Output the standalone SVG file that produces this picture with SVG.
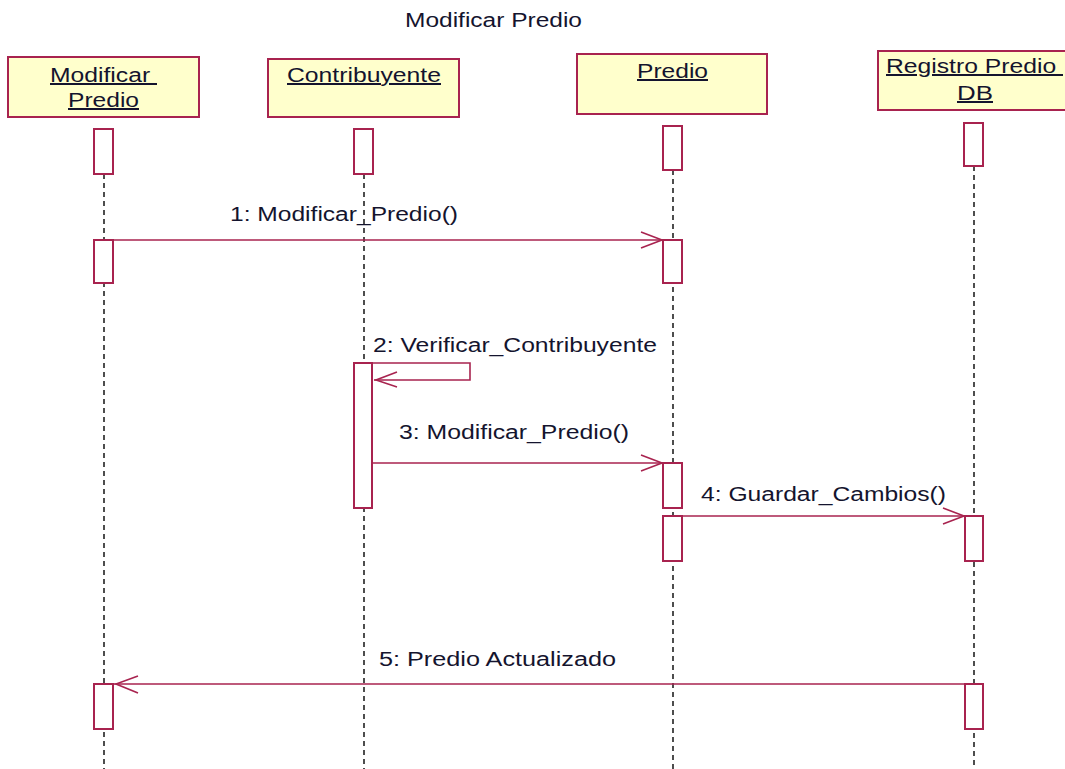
<svg xmlns="http://www.w3.org/2000/svg" width="1065" height="769" viewBox="0 0 1065 769">
<style>
.obj{fill:#FFFFCC;stroke:#A8234F;stroke-width:2}
.act{fill:#FFFFFF;stroke:#A8234F;stroke-width:2}
.life{stroke:#222;stroke-width:1.6;stroke-dasharray:5 4;fill:none}
.msg{stroke:#A8234F;stroke-width:1.6;fill:none}
.head{stroke:#A8234F;stroke-width:1.6;fill:none}
text{font-family:"Liberation Sans",Arial,sans-serif;font-size:20px;fill:#14142E}
.u{text-decoration:underline;white-space:pre}
</style>
<rect width="1065" height="769" fill="#FFFFFF"/>
<text x="405" y="27" textLength="177" lengthAdjust="spacingAndGlyphs">Modificar Predio</text>

<g id="lifelines">
<line class="life" x1="104" y1="174" x2="104" y2="769"/>
<line class="life" x1="364" y1="174" x2="364" y2="769"/>
<line class="life" x1="673" y1="170" x2="673" y2="769"/>
<line class="life" x1="974" y1="166" x2="974" y2="769"/>
</g>

<g id="node-modificar-predio">
<rect class="obj" x="8" y="57" width="191" height="60"/>
<text class="u" x="50" y="82" textLength="107" lengthAdjust="spacingAndGlyphs">Modificar </text>
<text class="u" x="68" y="107" textLength="71" lengthAdjust="spacingAndGlyphs">Predio</text>
<rect class="act" x="94" y="129" width="19" height="45"/>
<rect class="act" x="94" y="240" width="19" height="43"/>
<rect class="act" x="94" y="684" width="19" height="45"/>
</g>

<g id="node-contribuyente">
<rect class="obj" x="268" y="59" width="191" height="58"/>
<text class="u" x="287" y="82" textLength="154" lengthAdjust="spacingAndGlyphs">Contribuyente</text>
<rect class="act" x="354" y="129" width="19" height="45"/>
<rect class="act" x="354" y="363" width="18" height="145"/>
</g>

<g id="node-predio">
<rect class="obj" x="577" y="54" width="190" height="60"/>
<text class="u" x="637" y="78" textLength="71" lengthAdjust="spacingAndGlyphs">Predio</text>
<rect class="act" x="663" y="126" width="19" height="44"/>
<rect class="act" x="663" y="240" width="19" height="43"/>
<rect class="act" x="663" y="463" width="19" height="45"/>
<rect class="act" x="663" y="516" width="19" height="45"/>
</g>

<g id="node-registro">
<rect class="obj" x="878" y="51" width="200" height="59"/>
<text class="u" x="886" y="73" textLength="177" lengthAdjust="spacingAndGlyphs">Registro Predio </text>
<text class="u" x="957" y="100" textLength="36" lengthAdjust="spacingAndGlyphs">DB</text>
<rect class="act" x="964" y="123" width="19" height="43"/>
<rect class="act" x="965" y="516" width="18" height="45"/>
<rect class="act" x="965" y="684" width="18" height="45"/>
</g>

<g id="connectors">
<line class="msg" x1="113" y1="240" x2="662" y2="240"/>
<polyline class="head" points="641,232 662,240 641,248"/>
<text x="230" y="221" textLength="228" lengthAdjust="spacingAndGlyphs">1: Modificar_Predio()</text>

<polyline class="msg" points="372,363 470,363 470,380 374,380"/>
<polyline class="head" points="397,372 376,380 397,387"/>
<text x="373" y="352" textLength="284" lengthAdjust="spacingAndGlyphs">2: Verificar_Contribuyente</text>

<line class="msg" x1="372" y1="463" x2="662" y2="463"/>
<polyline class="head" points="641,455 662,463 641,471"/>
<text x="399" y="439" textLength="230" lengthAdjust="spacingAndGlyphs">3: Modificar_Predio()</text>

<line class="msg" x1="682" y1="516" x2="964" y2="516"/>
<polyline class="head" points="943,508 964,516 943,524"/>
<text x="701" y="501" textLength="245" lengthAdjust="spacingAndGlyphs">4: Guardar_Cambios()</text>

<line class="msg" x1="965" y1="684" x2="114" y2="684"/>
<polyline class="head" points="138,676 116,684 138,693"/>
<text x="379" y="666" textLength="237" lengthAdjust="spacingAndGlyphs">5: Predio Actualizado</text>
</g>
</svg>
